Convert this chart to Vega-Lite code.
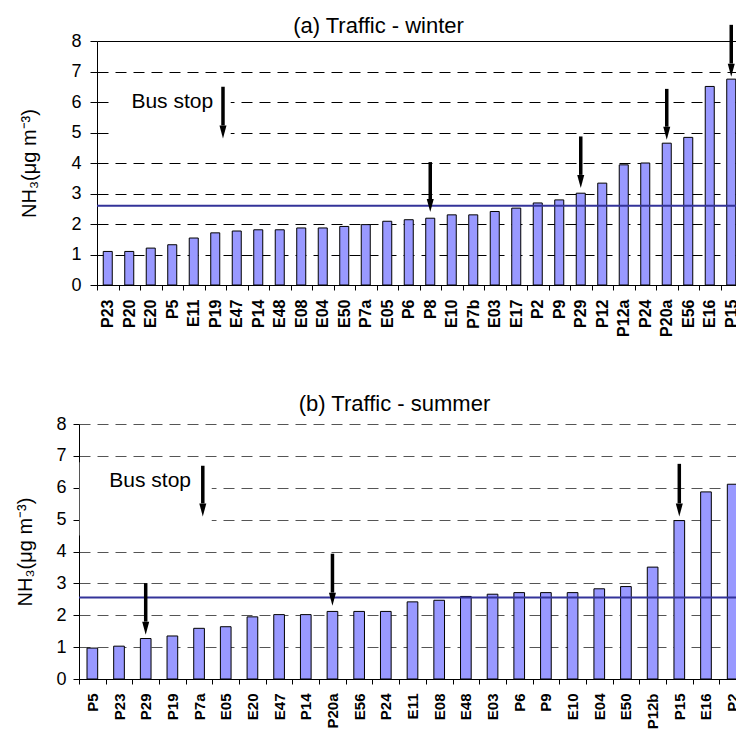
{
  "$schema": "https://vega.github.io/schema/vega-lite/v6.json",
  "padding": {"left": 15, "top": 15, "right": 0, "bottom": 0},
  "spacing": 56,
  "center": true,
  "config": {
    "font": "Liberation Sans",
    "view": {"stroke": null},
    "title": {"fontSize": 22, "fontWeight": "normal", "color": "#000000"},
    "axis": {"domainColor": "#000000", "tickColor": "#000000", "labelColor": "#000000", "titleColor": "#000000", "domainWidth": 1, "tickWidth": 1}
  },
  "vconcat": [
    {
      "width": 645,
      "height": 244,
      "title": {"text": "(a) Traffic - winter", "dx": -41, "offset": -15},
      "resolve": {"axis": {"y": "independent"}},
      "data": {"values": [
        {"site": "P23", "nh3": 1.10},
        {"site": "P20", "nh3": 1.10},
        {"site": "E20", "nh3": 1.21},
        {"site": "P5", "nh3": 1.32},
        {"site": "E11", "nh3": 1.54},
        {"site": "P19", "nh3": 1.71},
        {"site": "E47", "nh3": 1.77},
        {"site": "P14", "nh3": 1.81},
        {"site": "E48", "nh3": 1.81},
        {"site": "E08", "nh3": 1.87},
        {"site": "E04", "nh3": 1.87},
        {"site": "E50", "nh3": 1.92},
        {"site": "P7a", "nh3": 1.98},
        {"site": "E05", "nh3": 2.09},
        {"site": "P6", "nh3": 2.14},
        {"site": "P8", "nh3": 2.19, "arrowTop": 4.03, "arrowBase": 2.82, "arrowTip": 2.39},
        {"site": "E10", "nh3": 2.30},
        {"site": "P7b", "nh3": 2.30},
        {"site": "E03", "nh3": 2.41},
        {"site": "E17", "nh3": 2.52},
        {"site": "P2", "nh3": 2.69},
        {"site": "P9", "nh3": 2.79},
        {"site": "P29", "nh3": 3.01, "arrowTop": 4.87, "arrowBase": 3.61, "arrowTip": 3.18},
        {"site": "P12", "nh3": 3.34},
        {"site": "P12a", "nh3": 3.94},
        {"site": "P24", "nh3": 4.00},
        {"site": "P20a", "nh3": 4.65, "arrowTop": 6.43, "arrowBase": 5.19, "arrowTip": 4.76},
        {"site": "E56", "nh3": 4.84},
        {"site": "E16", "nh3": 6.51},
        {"site": "P15", "nh3": 6.75, "arrowTop": 8.53, "arrowBase": 7.26, "arrowTip": 6.83}
      ]},
      "layer": [
        {
          "mark": {"type": "bar", "fill": "#9999ff", "stroke": "#000000", "strokeWidth": 1, "width": {"band": 0.42}},
          "encoding": {
            "x": {"field": "site", "type": "nominal", "sort": null,
              "scale": {"paddingInner": 0, "paddingOuter": 0},
              "axis": {"title": null, "labelAngle": -90, "labelFontSize": 16, "labelFontWeight": "bold", "labelPadding": 9, "tickSize": 5, "tickBand": "extent", "grid": false}},
            "y": {"field": "nh3", "type": "quantitative",
              "scale": {"domain": [0, 8], "nice": false},
              "axis": {"title": "NH₃(μg m⁻³)", "titleFontSize": 20, "titleFontWeight": "normal", "titlePadding": 31,
                "values": [0, 1, 2, 3, 4, 5, 6, 7, 8], "labelOverlap": false, "labelFontSize": 18, "labelPadding": 9, "tickSize": 7,
                "grid": true, "gridColor": "#000000", "gridWidth": 1,
                "gridDash": {"condition": {"test": "datum.value === 8", "value": []}, "value": [11, 7]}}}
          }
        },
        {
          "data": {"values": [{"boxSite": "P5", "boxTop": 6.65, "boxBottom": 4.55}]},
          "mark": {"type": "bar", "fill": "#ffffff", "stroke": null, "width": {"band": 5.44}},
          "encoding": {
            "x": {"field": "boxSite", "type": "nominal", "sort": null},
            "y": {"field": "boxTop", "type": "quantitative", "axis": null},
            "y2": {"field": "boxBottom"}
          }
        },
        {
          "data": {"values": [{"level": 2.6}]},
          "mark": {"type": "rule", "color": "#333399", "strokeWidth": 2},
          "encoding": {"y": {"field": "level", "type": "quantitative", "axis": null}}
        },
        {
          "data": {"values": [{"label": "Bus stop", "site": "P19", "textY": 6.0}]},
          "mark": {"type": "text", "align": "right", "baseline": "middle", "fontSize": 21, "color": "#000000"},
          "encoding": {
            "x": {"field": "site", "type": "nominal", "sort": null, "bandPosition": 0.4},
            "y": {"field": "textY", "type": "quantitative", "axis": null},
            "text": {"field": "label"}
          }
        },
        {
          "data": {"values": [{"site": "P19", "arrowTop": 6.5, "arrowBase": 5.23, "arrowTip": 4.8}]},
          "layer": [
            {
              "mark": {"type": "rule", "color": "#000000", "strokeWidth": 3.5},
              "encoding": {
                "x": {"field": "site", "type": "nominal", "sort": null, "bandPosition": 0.86},
                "y": {"field": "arrowTop", "type": "quantitative", "axis": null},
                "y2": {"field": "arrowBase"}
              }
            },
            {
              "mark": {"type": "point", "shape": "M-0.54,-2L0.54,-2L0,0Z", "size": 169, "filled": true, "color": "#000000", "opacity": 1, "strokeWidth": 0},
              "encoding": {
                "x": {"field": "site", "type": "nominal", "sort": null, "bandPosition": 0.86},
                "y": {"field": "arrowTip", "type": "quantitative", "axis": null}
              }
            }
          ]
        },
        {
          "transform": [{"filter": "isValid(datum.arrowTop)"}],
          "mark": {"type": "rule", "color": "#000000", "strokeWidth": 3.5},
          "encoding": {
            "x": {"field": "site", "type": "nominal", "sort": null},
            "y": {"field": "arrowTop", "type": "quantitative", "axis": null},
            "y2": {"field": "arrowBase"}
          }
        },
        {
          "transform": [{"filter": "isValid(datum.arrowTip)"}],
          "mark": {"type": "point", "shape": "M-0.54,-2L0.54,-2L0,0Z", "size": 169, "filled": true, "color": "#000000", "opacity": 1, "strokeWidth": 0},
          "encoding": {
            "x": {"field": "site", "type": "nominal", "sort": null},
            "y": {"field": "arrowTip", "type": "quantitative", "axis": null}
          }
        }
      ]
    },
    {
      "width": 681,
      "height": 255,
      "title": {"text": "(b) Traffic - summer", "dx": -25, "offset": -1},
      "resolve": {"axis": {"y": "independent"}},
      "data": {"values": [
        {"site": "P5", "nh3": 0.97},
        {"site": "P23", "nh3": 1.03},
        {"site": "P29", "nh3": 1.27, "arrowTop": 3.01, "arrowBase": 1.8, "arrowTip": 1.39},
        {"site": "P19", "nh3": 1.35},
        {"site": "P7a", "nh3": 1.59},
        {"site": "E05", "nh3": 1.64},
        {"site": "E20", "nh3": 1.95},
        {"site": "E47", "nh3": 2.02},
        {"site": "P14", "nh3": 2.02},
        {"site": "P20a", "nh3": 2.12, "arrowTop": 3.93, "arrowBase": 2.71, "arrowTip": 2.3},
        {"site": "E56", "nh3": 2.12},
        {"site": "P24", "nh3": 2.12},
        {"site": "E11", "nh3": 2.42},
        {"site": "E08", "nh3": 2.47},
        {"site": "E48", "nh3": 2.59},
        {"site": "E03", "nh3": 2.66},
        {"site": "P6", "nh3": 2.71},
        {"site": "P9", "nh3": 2.71},
        {"site": "E10", "nh3": 2.71},
        {"site": "E04", "nh3": 2.83},
        {"site": "E50", "nh3": 2.90},
        {"site": "P12b", "nh3": 3.51},
        {"site": "P15", "nh3": 4.97, "arrowTop": 6.75, "arrowBase": 5.51, "arrowTip": 5.1},
        {"site": "E16", "nh3": 5.87},
        {"site": "P2", "nh3": 6.11}
      ]},
      "layer": [
        {
          "mark": {"type": "bar", "fill": "#9999ff", "stroke": "#000000", "strokeWidth": 1, "width": {"band": 0.4}},
          "encoding": {
            "x": {"field": "site", "type": "nominal", "sort": null,
              "scale": {"paddingInner": 0, "paddingOuter": 0, "range": [0, 667]},
              "axis": {"title": null, "labelAngle": -90, "labelFontSize": 15, "labelFontWeight": "bold", "labelPadding": 9, "tickSize": 5, "tickBand": "extent", "grid": false}},
            "y": {"field": "nh3", "type": "quantitative",
              "scale": {"domain": [0, 8], "nice": false},
              "axis": {"title": "NH₃(μg m⁻³)", "titleFontSize": 20, "titleFontWeight": "normal", "titlePadding": 20,
                "values": [0, 1, 2, 3, 4, 5, 6, 7, 8], "labelOverlap": false, "labelFontSize": 18, "labelPadding": 7, "tickSize": 6,
                "grid": true, "gridColor": "#555555", "gridWidth": 1, "gridDash": [11, 7]}}
          }
        },
        {
          "data": {"values": [{"boxSite": "P29", "boxTop": 6.8, "boxBottom": 4.5}]},
          "mark": {"type": "bar", "fill": "#ffffff", "stroke": null, "width": {"band": 4.95}},
          "encoding": {
            "x": {"field": "boxSite", "type": "nominal", "sort": null},
            "y": {"field": "boxTop", "type": "quantitative", "axis": null},
            "y2": {"field": "boxBottom"}
          }
        },
        {
          "data": {"values": [{"level": 2.56}]},
          "mark": {"type": "rule", "color": "#333399", "strokeWidth": 2},
          "encoding": {"y": {"field": "level", "type": "quantitative", "axis": null}}
        },
        {
          "data": {"values": [{"label": "Bus stop", "site": "P7a", "textY": 6.2}]},
          "mark": {"type": "text", "align": "right", "baseline": "middle", "fontSize": 21, "color": "#000000"},
          "encoding": {
            "x": {"field": "site", "type": "nominal", "sort": null, "bandPosition": 0.2},
            "y": {"field": "textY", "type": "quantitative", "axis": null},
            "text": {"field": "label"}
          }
        },
        {
          "data": {"values": [{"site": "P7a", "arrowTop": 6.69, "arrowBase": 5.51, "arrowTip": 5.1}]},
          "layer": [
            {
              "mark": {"type": "rule", "color": "#000000", "strokeWidth": 3.5},
              "encoding": {
                "x": {"field": "site", "type": "nominal", "sort": null, "bandPosition": 0.64},
                "y": {"field": "arrowTop", "type": "quantitative", "axis": null},
                "y2": {"field": "arrowBase"}
              }
            },
            {
              "mark": {"type": "point", "shape": "M-0.54,-2L0.54,-2L0,0Z", "size": 169, "filled": true, "color": "#000000", "opacity": 1, "strokeWidth": 0},
              "encoding": {
                "x": {"field": "site", "type": "nominal", "sort": null, "bandPosition": 0.64},
                "y": {"field": "arrowTip", "type": "quantitative", "axis": null}
              }
            }
          ]
        },
        {
          "transform": [{"filter": "isValid(datum.arrowTop)"}],
          "mark": {"type": "rule", "color": "#000000", "strokeWidth": 3.5},
          "encoding": {
            "x": {"field": "site", "type": "nominal", "sort": null},
            "y": {"field": "arrowTop", "type": "quantitative", "axis": null},
            "y2": {"field": "arrowBase"}
          }
        },
        {
          "transform": [{"filter": "isValid(datum.arrowTip)"}],
          "mark": {"type": "point", "shape": "M-0.54,-2L0.54,-2L0,0Z", "size": 169, "filled": true, "color": "#000000", "opacity": 1, "strokeWidth": 0},
          "encoding": {
            "x": {"field": "site", "type": "nominal", "sort": null},
            "y": {"field": "arrowTip", "type": "quantitative", "axis": null}
          }
        }
      ]
    }
  ]
}
